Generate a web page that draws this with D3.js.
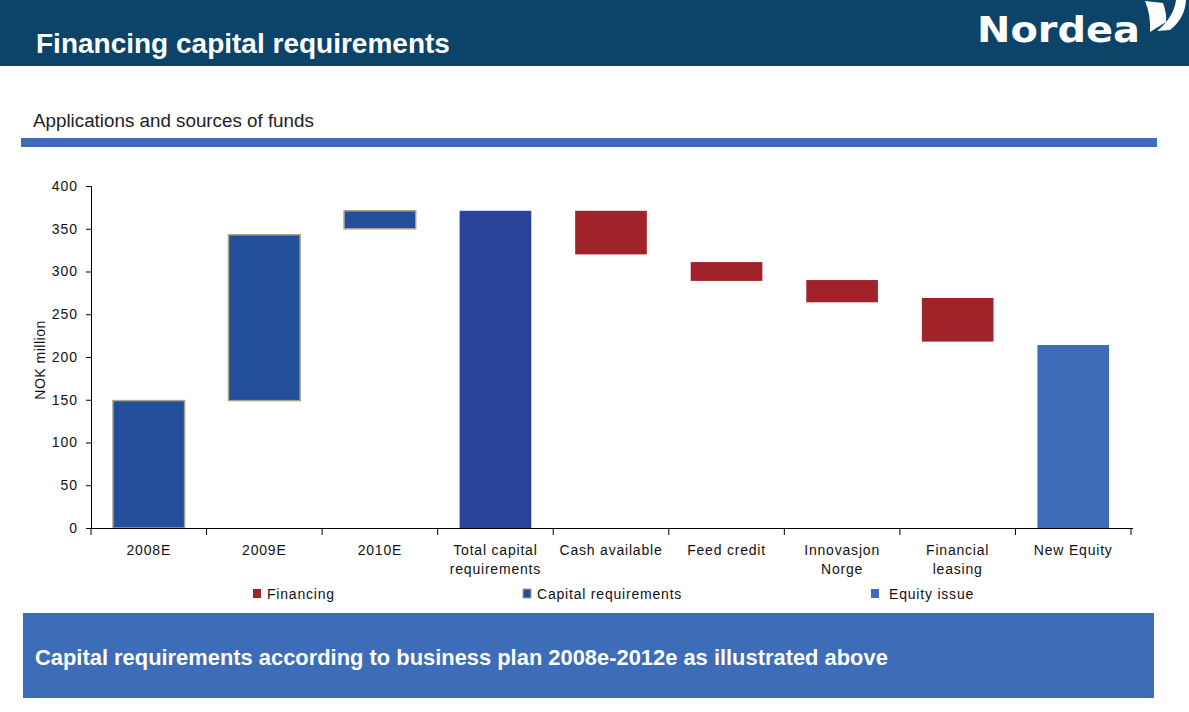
<!DOCTYPE html>
<html><head><meta charset="utf-8">
<script src="https://cdn.jsdelivr.net/npm/d3@7"></script>
<style>body{margin:0;background:#fff;}svg{display:block;font-family:"Liberation Sans",Arial,sans-serif;}</style>
</head><body>
<svg id="c" width="1189" height="712"></svg>
<script>
const categories = ["2008E","2009E","2010E","Total capital\nrequirements","Cash available","Feed credit","Innovasjon\nNorge","Financial\nleasing","New Equity"];
const lowValues  = [0, 149, 350, 0, 320, 289, 264, 218, 0];
const highValues = [149, 343, 371, 371, 371, 311, 290, 269, 214];
const seriesType = ["cap","cap","cap","total","fin","fin","fin","fin","eq"];
const yTicks = [0,50,100,150,200,250,300,350,400];
const legendItems = ["Financing","Capital requirements","Equity issue"];

const colors = {cap:"#234E9B", total:"#29429A", fin:"#A0232A", eq:"#3E6CB8"};
const svg = d3.select("#c");

// header
svg.append("rect").attr("x",0).attr("y",0).attr("width",1189).attr("height",66).attr("fill","#0B4468");
svg.append("text").attr("x",36).attr("y",53).attr("fill","#fff").attr("font-weight","bold").attr("font-size",28).text("Financing capital requirements");
svg.append("text").attr("x",977).attr("y",42).attr("fill","#fff").attr("font-family","'DejaVu Sans',sans-serif").attr("font-weight","bold").attr("font-size",36).attr("textLength",163).attr("lengthAdjust","spacingAndGlyphs").text("Nordea");
svg.append("path").attr("fill","#fff").attr("d","M1145,1 L1163,3 Q1167,14 1166,22 L1150,32 Q1151,15 1145,1 Z");
svg.append("path").attr("fill","#fff").attr("d","M1176,0 L1186,0 Q1185,18 1170,30 L1157,31 Q1174,17 1176,0 Z");

// subtitle
svg.append("text").attr("x",33).attr("y",127).attr("font-size",18.8).attr("fill","#222").text("Applications and sources of funds");
svg.append("rect").attr("x",21).attr("y",138).attr("width",1136).attr("height",9).attr("fill","#3E6CB8");

// scales
const x = d3.scaleBand().domain(categories).range([91,1131]).padding(0);
const y = d3.scaleLinear().domain([0,400]).range([528,186]);
const barW = x.bandwidth()*0.62;

// y axis
const ya = svg.append("g").attr("transform","translate(91,0)").call(d3.axisLeft(y).tickValues(yTicks).tickSize(5).tickPadding(8));
ya.select(".domain").attr("stroke","#000");
ya.selectAll("text").attr("font-size",14).attr("letter-spacing","1px").attr("font-family","'Liberation Sans',Arial,sans-serif").attr("fill","#111");
svg.append("text").attr("transform","translate(45,360) rotate(-90)").attr("text-anchor","middle").attr("font-size",14).attr("letter-spacing","0.5px").attr("fill","#111").text("NOK million");

// bars
svg.append("g").selectAll("rect").data(categories).join("rect")
  .attr("x",(d)=>x(d)+(x.bandwidth()-barW)/2)
  .attr("y",(d,i)=>y(highValues[i]))
  .attr("width",barW)
  .attr("height",(d,i)=>y(lowValues[i])-y(highValues[i]))
  .attr("fill",(d,i)=>colors[seriesType[i]])
  .attr("stroke",(d,i)=>seriesType[i]==="cap"?"#A8A48A":"none")
  .attr("stroke-width",1.5);

// x axis
svg.append("line").attr("x1",91).attr("x2",1133).attr("y1",528.5).attr("y2",528.5).attr("stroke","#000");
const bounds = categories.map(d=>x(d)).concat([x.range()[1]]);
svg.append("g").selectAll("line").data(bounds).join("line")
  .attr("x1",d=>d).attr("x2",d=>d).attr("y1",528).attr("y2",535).attr("stroke","#000");
const xl = svg.append("g").selectAll("text").data(categories).join("text")
  .attr("x",d=>x(d)+x.bandwidth()/2).attr("y",555).attr("text-anchor","middle").attr("font-size",14).attr("letter-spacing","0.8px").attr("fill","#111");
xl.each(function(d){
  const lines=d.split("\n");
  d3.select(this).selectAll("tspan").data(lines).join("tspan").attr("x",x(d)+x.bandwidth()/2).attr("dy",(l,j)=>j?19:0).text(l=>l);
});

// legend
const legX=[253,523,871], legTX=[267,537,889], legC=[colors.fin,colors.cap,colors.eq];
legendItems.forEach((t,i)=>{
  svg.append("rect").attr("x",legX[i]).attr("y",589).attr("width",8).attr("height",9).attr("fill",legC[i]).attr("stroke",i===1?"#A8A48A":"none");
  svg.append("text").attr("x",legTX[i]).attr("y",599).attr("font-size",14).attr("letter-spacing","0.8px").attr("fill","#111").text(t);
});

// bottom box
svg.append("rect").attr("x",23).attr("y",613).attr("width",1131).attr("height",85).attr("fill","#3D6CB8");
svg.append("text").attr("x",35).attr("y",665).attr("fill","#fff").attr("font-weight","bold").attr("font-size",21.9).text("Capital requirements according to business plan 2008e-2012e as illustrated above");
</script>
</body></html>
